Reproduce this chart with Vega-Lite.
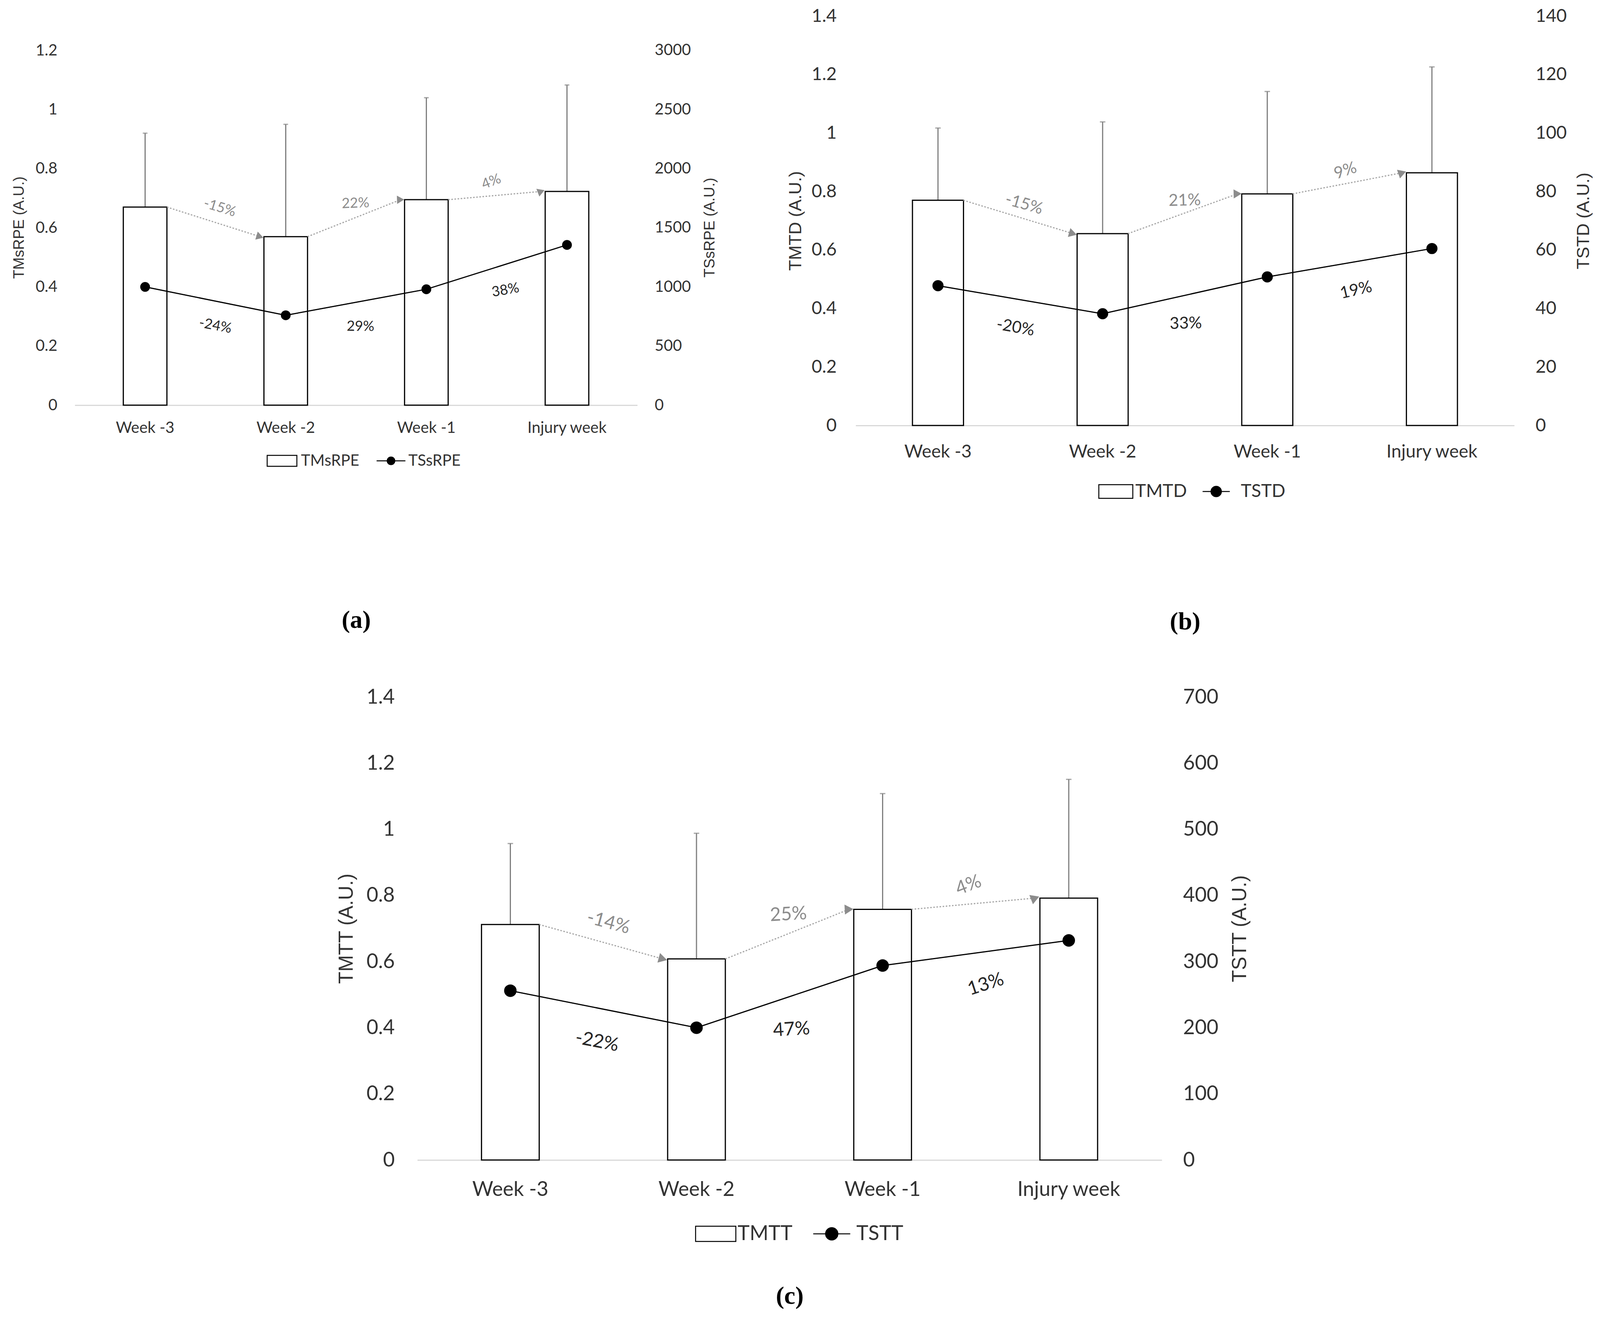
{
  "$schema": "https://vega.github.io/schema/vega-lite/v6.json",
  "background": "white",
  "padding": {"left": 30, "top": 18, "right": 10, "bottom": 10},
  "datasets": {
    "a": [
      {"week": "Week -3", "mean": 0.67, "top": 0.92, "total": 1000, "barPct": null, "linePct": null},
      {"week": "Week -2", "mean": 0.57, "top": 0.95, "total": 760, "barPct": "-15%", "linePct": "-24%"},
      {"week": "Week -1", "mean": 0.695, "top": 1.04, "total": 980, "barPct": "22%", "linePct": "29%"},
      {"week": "Injury week", "mean": 0.723, "top": 1.083, "total": 1355, "barPct": "4%", "linePct": "38%"}
    ],
    "b": [
      {"week": "Week -3", "mean": 0.77, "top": 1.017, "total": 47.8, "barPct": null, "linePct": null},
      {"week": "Week -2", "mean": 0.656, "top": 1.038, "total": 38.2, "barPct": "-15%", "linePct": "-20%"},
      {"week": "Week -1", "mean": 0.792, "top": 1.142, "total": 50.8, "barPct": "21%", "linePct": "33%"},
      {"week": "Injury week", "mean": 0.864, "top": 1.226, "total": 60.5, "barPct": "9%", "linePct": "19%"}
    ],
    "c": [
      {"week": "Week -3", "mean": 0.712, "top": 0.957, "total": 256, "barPct": null, "linePct": null},
      {"week": "Week -2", "mean": 0.608, "top": 0.988, "total": 200, "barPct": "-14%", "linePct": "-22%"},
      {"week": "Week -1", "mean": 0.758, "top": 1.108, "total": 294, "barPct": "25%", "linePct": "47%"},
      {"week": "Injury week", "mean": 0.792, "top": 1.151, "total": 332, "barPct": "4%", "linePct": "13%"}
    ]
  },
  "config": {
    "view": {"stroke": null},
    "font": "Lato",
    "axis": {"grid": false, "ticks": false, "labelColor": "#333333", "titleColor": "#333333", "titleFontWeight": "normal", "labelFont": "Lato", "titleFont": "Liberation Sans"},
    "axisY": {"domain": false},
    "axisX": {"domainColor": "#d9d9d9", "domainWidth": 3, "labelAngle": 0, "labelLimit": 1000, "titleFont": "Liberation Serif", "titleColor": "black", "titleFontWeight": "bold"},
    "legend": {"labelFont": "Lato", "labelColor": "#333333", "symbolStrokeColor": "black", "symbolStrokeWidth": 2.5, "symbolOpacity": 1, "direction": "horizontal", "orient": "none", "title": null}
  },
  "vconcat": [
    {
      "hconcat": [
        {
          "width": 1440,
          "height": 996,
          "data": {"name": "a"},
          "transform": [
            {"window": [{"op": "lag", "field": "week", "as": "pw"}, {"op": "lag", "field": "mean", "as": "pm"}, {"op": "lag", "field": "total", "as": "pt"}]},
            {"calculate": "(datum.pm + datum.mean) / 2", "as": "mid"},
            {"calculate": "(datum.pt + datum.total) / 2", "as": "midT"}
          ],
          "layer": [
            {
              "layer": [
                {
                  "mark": {"type": "rule", "color": "#7f7f7f", "strokeWidth": 3},
                  "encoding": {
                    "x": {"field": "week", "type": "nominal", "scale": {"domain": ["Week -3", "Week -2", "Week -1", "Injury week"], "paddingInner": 0.69, "paddingOuter": 0.345}},
                    "y": {"field": "mean", "type": "quantitative", "title": "TMsRPE (A.U.)"},
                    "y2": {"field": "top"}
                  }
                },
                {
                  "mark": {"type": "tick", "color": "#7f7f7f", "thickness": 3, "size": 12},
                  "encoding": {
                    "x": {"field": "week", "type": "nominal", "scale": {"domain": ["Week -3", "Week -2", "Week -1", "Injury week"], "paddingInner": 0.69, "paddingOuter": 0.345}},
                    "y": {"field": "top", "type": "quantitative", "title": "TMsRPE (A.U.)"}
                  }
                },
                {
                  "mark": {"type": "bar", "fill": "white", "strokeWidth": 3},
                  "encoding": {
                    "x": {"field": "week", "type": "nominal", "scale": {"domain": ["Week -3", "Week -2", "Week -1", "Injury week"], "paddingInner": 0.69, "paddingOuter": 0.345},
                      "axis": {"title": "(a)", "titleFontSize": 64, "titlePadding": 440, "labelFontSize": 40, "labelPadding": 38}},
                    "y": {"field": "mean", "type": "quantitative", "title": "TMsRPE (A.U.)", "scale": {"domain": [0, 1.3163], "nice": false},
                      "axis": {"values": [0, 0.2, 0.4, 0.6, 0.8, 1, 1.2], "format": "~g", "labelFontSize": 40, "labelPadding": 45, "titleFontSize": 38, "titlePadding": 22, "titleY": 541}},
                    "stroke": {"datum": "TMsRPE", "type": "nominal", "scale": {"domain": ["TMsRPE"], "range": ["black"]},
                      "legend": {"orient": "none", "legendX": 491, "legendY": 1099, "labelFontSize": 40, "labelOffset": 9, "symbolSize": 5776, "symbolFillColor": "white",
                        "symbolType": "M-1,-0.37H1V0.37H-1Z"}}
                  }
                },
                {
                  "transform": [{"filter": "datum.pw != null"}],
                  "mark": {"type": "rule", "color": "#a6a6a6", "strokeWidth": 3, "strokeDash": [4, 4], "xOffset": 56, "x2Offset": -66},
                  "encoding": {
                    "x": {"field": "pw", "type": "nominal", "scale": {"domain": ["Week -3", "Week -2", "Week -1", "Injury week"], "paddingInner": 0.69, "paddingOuter": 0.345}},
                    "x2": {"field": "week"},
                    "y": {"field": "pm", "type": "quantitative", "title": "TMsRPE (A.U.)"},
                    "y2": {"field": "mean"}
                  }
                },
                {
                  "transform": [{"filter": "datum.pw != null"}],
                  "mark": {"type": "point", "shape": "triangle-right", "filled": true, "color": "#8c8c8c", "opacity": 1, "size": 450, "xOffset": -66},
                  "encoding": {
                    "x": {"field": "week", "type": "nominal", "scale": {"domain": ["Week -3", "Week -2", "Week -1", "Injury week"], "paddingInner": 0.69, "paddingOuter": 0.345}},
                    "y": {"field": "mean", "type": "quantitative", "title": "TMsRPE (A.U.)"},
                    "angle": {"field": "week", "type": "nominal", "scale": {"domain": ["Week -2", "Week -1", "Injury week"], "range": [17, -21, -5]}, "legend": null}
                  }
                },
                {
                  "transform": [{"filter": "datum.pw != null"}],
                  "mark": {"type": "text", "font": "Lato", "fontSize": 36, "color": "#8c8c8c", "xOffset": 180, "dy": -38},
                  "encoding": {
                    "x": {"field": "pw", "type": "nominal", "scale": {"domain": ["Week -3", "Week -2", "Week -1", "Injury week"], "paddingInner": 0.69, "paddingOuter": 0.345}},
                    "y": {"field": "mid", "type": "quantitative", "title": "TMsRPE (A.U.)"},
                    "text": {"field": "barPct"},
                    "angle": {"field": "week", "type": "nominal", "scale": {"domain": ["Week -2", "Week -1", "Injury week"], "range": [17, -21, -5]}, "legend": null}
                  }
                }
              ]
            },
            {
              "layer": [
                {
                  "mark": {"type": "line", "strokeWidth": 3, "point": {"filled": true, "size": 530, "color": "black"}},
                  "encoding": {
                    "x": {"field": "week", "type": "nominal", "scale": {"domain": ["Week -3", "Week -2", "Week -1", "Injury week"], "paddingInner": 0.69, "paddingOuter": 0.345}},
                    "y": {"field": "total", "type": "quantitative", "title": "TSsRPE (A.U.)", "scale": {"domain": [0, 3290.7], "nice": false},
                      "axis": {"orient": "right", "values": [0, 500, 1000, 1500, 2000, 2500, 3000], "format": "d", "labelFontSize": 40, "labelPadding": 44, "titleFontSize": 38, "titlePadding": 30, "titleAngle": -90, "titleBaseline": "top", "titleY": 541}},
                    "stroke": {"datum": "TSsRPE", "type": "nominal", "scale": {"domain": ["TSsRPE"], "range": ["black"]},
                      "legend": {"orient": "none", "legendX": 770, "legendY": 1099, "labelFontSize": 40, "labelOffset": 5, "symbolSize": 5776, "symbolFillColor": "white",
                        "symbolType": "M-0.97,0H0.97M0.03,0A0.03,0.03 0 1 1 -0.03,0A0.03,0.03 0 1 1 0.03,0M0.09,0A0.09,0.09 0 1 1 -0.09,0A0.09,0.09 0 1 1 0.09,0M0.15,0A0.15,0.15 0 1 1 -0.15,0A0.15,0.15 0 1 1 0.15,0M0.21,0A0.21,0.21 0 1 1 -0.21,0A0.21,0.21 0 1 1 0.21,0M0.257,0A0.257,0.257 0 1 1 -0.257,0A0.257,0.257 0 1 1 0.257,0"}}
                  }
                },
                {
                  "transform": [{"filter": "datum.pw != null"}],
                  "mark": {"type": "text", "font": "Lato", "fontSize": 36, "color": "#262626", "xOffset": 180, "dy": 62, "dx": 12},
                  "encoding": {
                    "x": {"field": "pw", "type": "nominal", "scale": {"domain": ["Week -3", "Week -2", "Week -1", "Injury week"], "paddingInner": 0.69, "paddingOuter": 0.345}},
                    "y": {"field": "midT", "type": "quantitative", "title": "TSsRPE (A.U.)"},
                    "text": {"field": "linePct"},
                    "angle": {"field": "week", "type": "nominal", "scale": {"domain": ["Week -2", "Week -1", "Injury week"], "range": [11, -10, -17]}, "legend": null}
                  }
                }
              ]
            }
          ],
          "resolve": {"scale": {"y": "independent", "angle": "independent", "stroke": "independent"}, "legend": {"stroke": "independent"}}
        },
        {
          "width": 1686,
          "height": 1048,
          "data": {"name": "b"},
          "transform": [
            {"window": [{"op": "lag", "field": "week", "as": "pw"}, {"op": "lag", "field": "mean", "as": "pm"}, {"op": "lag", "field": "total", "as": "pt"}]},
            {"calculate": "(datum.pm + datum.mean) / 2", "as": "mid"},
            {"calculate": "(datum.pt + datum.total) / 2", "as": "midT"}
          ],
          "layer": [
            {
              "layer": [
                {
                  "mark": {"type": "rule", "color": "#7f7f7f", "strokeWidth": 3},
                  "encoding": {
                    "x": {"field": "week", "type": "nominal", "scale": {"domain": ["Week -3", "Week -2", "Week -1", "Injury week"], "paddingInner": 0.69, "paddingOuter": 0.345}},
                    "y": {"field": "mean", "type": "quantitative", "title": "TMTD (A.U.)"},
                    "y2": {"field": "top"}
                  }
                },
                {
                  "mark": {"type": "tick", "color": "#7f7f7f", "thickness": 3, "size": 14},
                  "encoding": {
                    "x": {"field": "week", "type": "nominal", "scale": {"domain": ["Week -3", "Week -2", "Week -1", "Injury week"], "paddingInner": 0.69, "paddingOuter": 0.345}},
                    "y": {"field": "top", "type": "quantitative", "title": "TMTD (A.U.)"}
                  }
                },
                {
                  "mark": {"type": "bar", "fill": "white", "strokeWidth": 3},
                  "encoding": {
                    "x": {"field": "week", "type": "nominal", "scale": {"domain": ["Week -3", "Week -2", "Week -1", "Injury week"], "paddingInner": 0.69, "paddingOuter": 0.345},
                      "axis": {"title": "(b)", "titleFontSize": 64, "titlePadding": 380, "labelFontSize": 46, "labelPadding": 45}},
                    "y": {"field": "mean", "type": "quantitative", "title": "TMTD (A.U.)", "scale": {"domain": [0, 1.4], "nice": false},
                      "axis": {"values": [0, 0.2, 0.4, 0.6, 0.8, 1, 1.2, 1.4], "format": "~g", "labelFontSize": 46, "labelPadding": 49, "titleFontSize": 45, "titlePadding": 18}},
                    "stroke": {"datum": "TMTD", "type": "nominal", "scale": {"domain": ["TMTD"], "range": ["black"]},
                      "legend": {"orient": "none", "legendX": 621, "legendY": 1172, "labelFontSize": 46, "labelOffset": 5, "symbolSize": 7569, "symbolFillColor": "white",
                        "symbolType": "M-1,-0.4H1V0.4H-1Z"}}
                  }
                },
                {
                  "transform": [{"filter": "datum.pw != null"}],
                  "mark": {"type": "rule", "color": "#a6a6a6", "strokeWidth": 3, "strokeDash": [4, 4], "xOffset": 65, "x2Offset": -76},
                  "encoding": {
                    "x": {"field": "pw", "type": "nominal", "scale": {"domain": ["Week -3", "Week -2", "Week -1", "Injury week"], "paddingInner": 0.69, "paddingOuter": 0.345}},
                    "x2": {"field": "week"},
                    "y": {"field": "pm", "type": "quantitative", "title": "TMTD (A.U.)"},
                    "y2": {"field": "mean"}
                  }
                },
                {
                  "transform": [{"filter": "datum.pw != null"}],
                  "mark": {"type": "point", "shape": "triangle-right", "filled": true, "color": "#8c8c8c", "opacity": 1, "size": 550, "xOffset": -76},
                  "encoding": {
                    "x": {"field": "week", "type": "nominal", "scale": {"domain": ["Week -3", "Week -2", "Week -1", "Injury week"], "paddingInner": 0.69, "paddingOuter": 0.345}},
                    "y": {"field": "mean", "type": "quantitative", "title": "TMTD (A.U.)"},
                    "angle": {"field": "week", "type": "nominal", "scale": {"domain": ["Week -2", "Week -1", "Injury week"], "range": [16, -19, -10]}, "legend": null}
                  }
                },
                {
                  "transform": [{"filter": "datum.pw != null"}],
                  "mark": {"type": "text", "font": "Lato", "fontSize": 42, "color": "#8c8c8c", "xOffset": 211, "dy": -34},
                  "encoding": {
                    "x": {"field": "pw", "type": "nominal", "scale": {"domain": ["Week -3", "Week -2", "Week -1", "Injury week"], "paddingInner": 0.69, "paddingOuter": 0.345}},
                    "y": {"field": "mid", "type": "quantitative", "title": "TMTD (A.U.)"},
                    "text": {"field": "barPct"},
                    "angle": {"field": "week", "type": "nominal", "scale": {"domain": ["Week -2", "Week -1", "Injury week"], "range": [16, -19, -10]}, "legend": null}
                  }
                }
              ]
            },
            {
              "layer": [
                {
                  "mark": {"type": "line", "strokeWidth": 3, "point": {"filled": true, "size": 700, "color": "black"}},
                  "encoding": {
                    "x": {"field": "week", "type": "nominal", "scale": {"domain": ["Week -3", "Week -2", "Week -1", "Injury week"], "paddingInner": 0.69, "paddingOuter": 0.345}},
                    "y": {"field": "total", "type": "quantitative", "title": "TSTD (A.U.)", "scale": {"domain": [0, 140], "nice": false},
                      "axis": {"orient": "right", "values": [0, 20, 40, 60, 80, 100, 120, 140], "format": "d", "labelFontSize": 46, "labelPadding": 54, "titleFontSize": 45, "titlePadding": 21, "titleAngle": -90, "titleBaseline": "top"}},
                    "stroke": {"datum": "TSTD", "type": "nominal", "scale": {"domain": ["TSTD"], "range": ["black"]},
                      "legend": {"orient": "none", "legendX": 878, "legendY": 1172, "labelFontSize": 46, "labelOffset": 18, "symbolSize": 7569, "symbolFillColor": "white",
                        "symbolType": "M-0.8,0H0.8M0.03,0A0.03,0.03 0 1 1 -0.03,0A0.03,0.03 0 1 1 0.03,0M0.085,0A0.085,0.085 0 1 1 -0.085,0A0.085,0.085 0 1 1 0.085,0M0.14,0A0.14,0.14 0 1 1 -0.14,0A0.14,0.14 0 1 1 0.14,0M0.195,0A0.195,0.195 0 1 1 -0.195,0A0.195,0.195 0 1 1 0.195,0M0.25,0A0.25,0.25 0 1 1 -0.25,0A0.25,0.25 0 1 1 0.25,0M0.305,0A0.305,0.305 0 1 1 -0.305,0A0.305,0.305 0 1 1 0.305,0"}}
                  }
                },
                {
                  "transform": [{"filter": "datum.pw != null"}],
                  "mark": {"type": "text", "font": "Lato", "fontSize": 42, "color": "#262626", "xOffset": 211, "dy": 72},
                  "encoding": {
                    "x": {"field": "pw", "type": "nominal", "scale": {"domain": ["Week -3", "Week -2", "Week -1", "Injury week"], "paddingInner": 0.69, "paddingOuter": 0.345}},
                    "y": {"field": "midT", "type": "quantitative", "title": "TSTD (A.U.)"},
                    "text": {"field": "linePct"},
                    "angle": {"field": "week", "type": "nominal", "scale": {"domain": ["Week -2", "Week -1", "Injury week"], "range": [10, -13, -10]}, "legend": null}
                  }
                }
              ]
            }
          ],
          "resolve": {"scale": {"y": "independent", "angle": "independent", "stroke": "independent"}, "legend": {"stroke": "independent"}}
        }
      ],
      "spacing": 177,
      "resolve": {"scale": {"x": "independent", "y": "independent", "stroke": "independent", "angle": "independent"}, "legend": {"stroke": "independent"}}
    },
    {
      "width": 1906,
      "height": 1185,
      "data": {"name": "c"},
      "transform": [
        {"window": [{"op": "lag", "field": "week", "as": "pw"}, {"op": "lag", "field": "mean", "as": "pm"}, {"op": "lag", "field": "total", "as": "pt"}]},
        {"calculate": "(datum.pm + datum.mean) / 2", "as": "mid"},
        {"calculate": "(datum.pt + datum.total) / 2", "as": "midT"}
      ],
      "layer": [
        {
          "layer": [
            {
              "mark": {"type": "rule", "color": "#7f7f7f", "strokeWidth": 3},
              "encoding": {
                "x": {"field": "week", "type": "nominal", "scale": {"domain": ["Week -3", "Week -2", "Week -1", "Injury week"], "paddingInner": 0.69, "paddingOuter": 0.345}},
                "y": {"field": "mean", "type": "quantitative", "title": "TMTT (A.U.)"},
                "y2": {"field": "top"}
              }
            },
            {
              "mark": {"type": "tick", "color": "#7f7f7f", "thickness": 3, "size": 14},
              "encoding": {
                "x": {"field": "week", "type": "nominal", "scale": {"domain": ["Week -3", "Week -2", "Week -1", "Injury week"], "paddingInner": 0.69, "paddingOuter": 0.345}},
                "y": {"field": "top", "type": "quantitative", "title": "TMTT (A.U.)"}
              }
            },
            {
              "mark": {"type": "bar", "fill": "white", "strokeWidth": 3},
              "encoding": {
                "x": {"field": "week", "type": "nominal", "scale": {"domain": ["Week -3", "Week -2", "Week -1", "Injury week"], "paddingInner": 0.69, "paddingOuter": 0.345},
                  "axis": {"title": "(c)", "titleFontSize": 64, "titlePadding": 215, "labelFontSize": 52, "labelPadding": 50}},
                "y": {"field": "mean", "type": "quantitative", "title": "TMTT (A.U.)", "scale": {"domain": [0, 1.4], "nice": false},
                  "axis": {"values": [0, 0.2, 0.4, 0.6, 0.8, 1, 1.2, 1.4], "format": "~g", "labelFontSize": 52, "labelPadding": 58, "titleFontSize": 51, "titlePadding": 24}},
                "stroke": {"datum": "TMTT", "type": "nominal", "scale": {"domain": ["TMTT"], "range": ["black"]},
                  "legend": {"orient": "none", "legendX": 711, "legendY": 1321, "labelFontSize": 52, "labelOffset": 3, "symbolSize": 10609, "symbolFillColor": "white",
                    "symbolType": "M-1,-0.38H1V0.38H-1Z"}}
              }
            },
            {
              "transform": [{"filter": "datum.pw != null"}],
              "mark": {"type": "rule", "color": "#a6a6a6", "strokeWidth": 3, "strokeDash": [4, 4], "xOffset": 74, "x2Offset": -86},
              "encoding": {
                "x": {"field": "pw", "type": "nominal", "scale": {"domain": ["Week -3", "Week -2", "Week -1", "Injury week"], "paddingInner": 0.69, "paddingOuter": 0.345}},
                "x2": {"field": "week"},
                "y": {"field": "pm", "type": "quantitative", "title": "TMTT (A.U.)"},
                "y2": {"field": "mean"}
              }
            },
            {
              "transform": [{"filter": "datum.pw != null"}],
              "mark": {"type": "point", "shape": "triangle-right", "filled": true, "color": "#8c8c8c", "opacity": 1, "size": 650, "xOffset": -86},
              "encoding": {
                "x": {"field": "week", "type": "nominal", "scale": {"domain": ["Week -3", "Week -2", "Week -1", "Injury week"], "paddingInner": 0.69, "paddingOuter": 0.345}},
                "y": {"field": "mean", "type": "quantitative", "title": "TMTT (A.U.)"},
                "angle": {"field": "week", "type": "nominal", "scale": {"domain": ["Week -2", "Week -1", "Injury week"], "range": [15, -21, -5]}, "legend": null}
              }
            },
            {
              "transform": [{"filter": "datum.pw != null"}],
              "mark": {"type": "text", "font": "Lato", "fontSize": 48, "color": "#8c8c8c", "xOffset": 238, "dy": -50},
              "encoding": {
                "x": {"field": "pw", "type": "nominal", "scale": {"domain": ["Week -3", "Week -2", "Week -1", "Injury week"], "paddingInner": 0.69, "paddingOuter": 0.345}},
                "y": {"field": "mid", "type": "quantitative", "title": "TMTT (A.U.)"},
                "text": {"field": "barPct"},
                "angle": {"field": "week", "type": "nominal", "scale": {"domain": ["Week -2", "Week -1", "Injury week"], "range": [15, -21, -5]}, "legend": null}
              }
            }
          ]
        },
        {
          "layer": [
            {
              "mark": {"type": "line", "strokeWidth": 3, "point": {"filled": true, "size": 900, "color": "black"}},
              "encoding": {
                "x": {"field": "week", "type": "nominal", "scale": {"domain": ["Week -3", "Week -2", "Week -1", "Injury week"], "paddingInner": 0.69, "paddingOuter": 0.345}},
                "y": {"field": "total", "type": "quantitative", "title": "TSTT (A.U.)", "scale": {"domain": [0, 700], "nice": false},
                  "axis": {"orient": "right", "values": [0, 100, 200, 300, 400, 500, 600, 700], "format": "d", "labelFontSize": 52, "labelPadding": 54, "titleFontSize": 51, "titlePadding": 31, "titleAngle": -90, "titleBaseline": "top"}},
                "stroke": {"datum": "TSTT", "type": "nominal", "scale": {"domain": ["TSTT"], "range": ["black"]},
                  "legend": {"orient": "none", "legendX": 1008, "legendY": 1321, "labelFontSize": 52, "labelOffset": 10, "symbolSize": 10609, "symbolFillColor": "white",
                    "symbolType": "M-0.92,0H0.92M0.02,0A0.02,0.02 0 1 1 -0.02,0A0.02,0.02 0 1 1 0.02,0M0.068,0A0.068,0.068 0 1 1 -0.068,0A0.068,0.068 0 1 1 0.068,0M0.116,0A0.116,0.116 0 1 1 -0.116,0A0.116,0.116 0 1 1 0.116,0M0.164,0A0.164,0.164 0 1 1 -0.164,0A0.164,0.164 0 1 1 0.164,0M0.212,0A0.212,0.212 0 1 1 -0.212,0A0.212,0.212 0 1 1 0.212,0M0.26,0A0.26,0.26 0 1 1 -0.26,0A0.26,0.26 0 1 1 0.26,0M0.306,0A0.306,0.306 0 1 1 -0.306,0A0.306,0.306 0 1 1 0.306,0"}}
              }
            },
            {
              "transform": [{"filter": "datum.pw != null"}],
              "mark": {"type": "text", "font": "Lato", "fontSize": 48, "color": "#262626", "xOffset": 238, "dy": 85},
              "encoding": {
                "x": {"field": "pw", "type": "nominal", "scale": {"domain": ["Week -3", "Week -2", "Week -1", "Injury week"], "paddingInner": 0.69, "paddingOuter": 0.345}},
                "y": {"field": "midT", "type": "quantitative", "title": "TSTT (A.U.)"},
                "text": {"field": "linePct"},
                "angle": {"field": "week", "type": "nominal", "scale": {"domain": ["Week -2", "Week -1", "Injury week"], "range": [11, -18, -8]}, "legend": null}
              }
            }
          ]
        }
      ],
      "resolve": {"scale": {"y": "independent", "angle": "independent", "stroke": "independent"}, "legend": {"stroke": "independent"}}
    }
  ],
  "spacing": 135,
  "center": true,
  "resolve": {"scale": {"x": "independent", "y": "independent", "stroke": "independent", "angle": "independent"}, "legend": {"stroke": "independent"}}
}
